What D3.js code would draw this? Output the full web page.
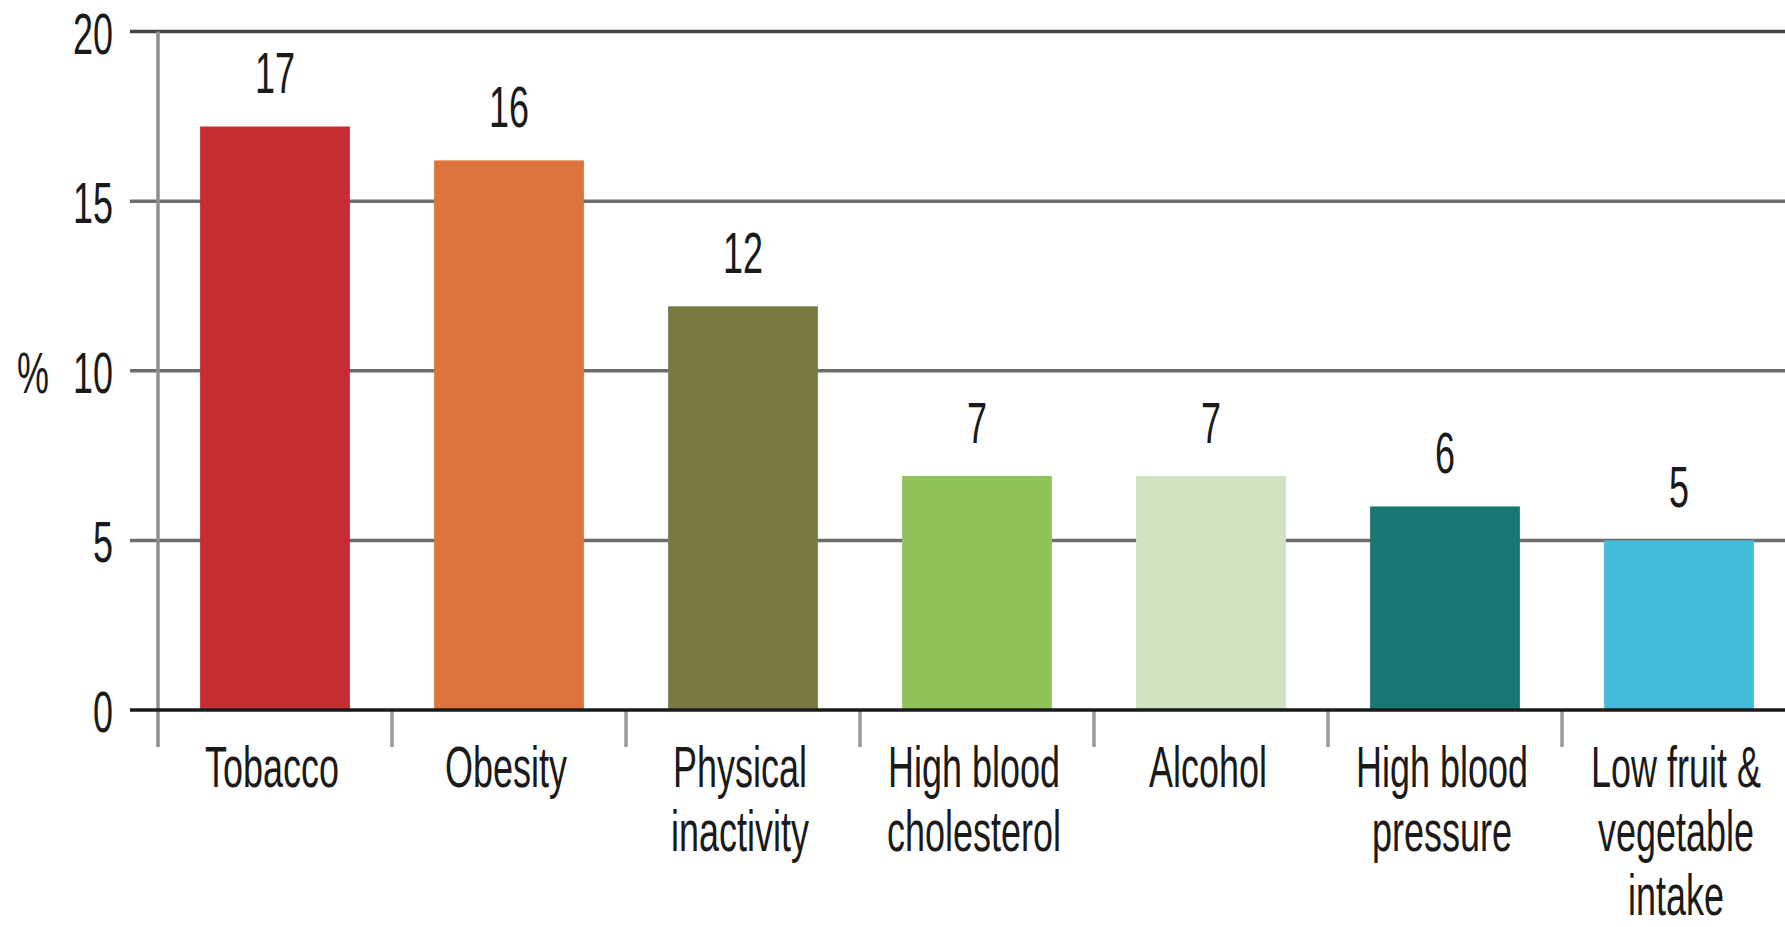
<!DOCTYPE html>
<html>
<head>
<meta charset="utf-8">
<script src="https://cdn.jsdelivr.net/npm/d3@7"></script>
<style>
  html, body { margin: 0; padding: 0; background: #fff; overflow: hidden; }
  svg { display: block; }
</style>
</head>
<body>
<svg id="chart" width="1785" height="927"></svg>
<script>
// ---- data ----
const categories = ["Tobacco", "Obesity", "Physical inactivity", "High blood cholesterol", "Alcohol", "High blood pressure", "Low fruit & vegetable intake"];
const categoryLines = [["Tobacco"], ["Obesity"], ["Physical", "inactivity"], ["High blood", "cholesterol"], ["Alcohol"], ["High blood", "pressure"], ["Low fruit &", "vegetable", "intake"]];
const values = [17.2, 16.2, 11.9, 6.9, 6.9, 6.0, 5.0];
const colors = ["#c62d32", "#dd743c", "#797a40", "#8fc259", "#d0e4c2", "#177773", "#43bddb"];
const yTicks = [0, 5, 10, 15, 20];
const yAxisTitle = "%";

// ---- layout ----
const W = 1785, H = 927;
const x0 = 158, step = 234;
const yZero = 710, yTop = 31.5;
const fontFamily = "'Liberation Sans', Arial, sans-serif";
const fontSize = 58;
const squeeze = 0.62;

const svg = d3.select("#chart");

const x = d3.scaleBand()
  .domain(categories)
  .range([x0, x0 + step * categories.length])
  .paddingInner(0.36)
  .paddingOuter(0.18);

const y = d3.scaleLinear().domain([0, 20]).range([yZero, yTop]);

function squeezedText(sel, tx, ty) {
  return sel.attr("transform", (d, i) => `translate(${tx(d, i)},${ty(d, i)}) scale(${squeeze},1)`)
    .attr("font-family", fontFamily)
    .attr("font-size", fontSize)
    .attr("fill", "#1a1a1a");
}

// gridlines (non-zero)
svg.append("g").selectAll("line")
  .data(yTicks.filter(t => t !== 0))
  .join("line")
  .attr("x1", 130).attr("x2", W)
  .attr("y1", d => y(d)).attr("y2", d => y(d))
  .attr("stroke", d => d === 20 ? "#444" : "#6e6e6e")
  .attr("stroke-width", 3.5);

// y axis vertical line
svg.append("line")
  .attr("x1", x0).attr("x2", x0)
  .attr("y1", y(20)).attr("y2", yZero + 37)
  .attr("stroke", "#8f8f8f").attr("stroke-width", 3.5);

// category boundary ticks
svg.append("g").selectAll("line")
  .data(d3.range(1, categories.length + 1))
  .join("line")
  .attr("x1", i => x0 + i * x.step()).attr("x2", i => x0 + i * x.step())
  .attr("y1", yZero).attr("y2", yZero + 37)
  .attr("stroke", "#999").attr("stroke-width", 3.5);

// bars
svg.append("g").selectAll("rect")
  .data(categories)
  .join("rect")
  .attr("x", d => x(d))
  .attr("width", x.bandwidth())
  .attr("y", (d, i) => y(values[i]))
  .attr("height", (d, i) => yZero - y(values[i]))
  .attr("fill", (d, i) => colors[i]);

// zero line
svg.append("line")
  .attr("x1", 130).attr("x2", W)
  .attr("y1", yZero).attr("y2", yZero)
  .attr("stroke", "#1a1a1a").attr("stroke-width", 3.5);

// y tick labels
squeezedText(
  svg.append("g").selectAll("text").data(yTicks).join("text")
    .attr("text-anchor", "end")
    .text(d => d),
  () => 113, d => y(d) + 22
);

// y axis title
squeezedText(
  svg.append("g").selectAll("text").data([yAxisTitle]).join("text")
    .attr("text-anchor", "start")
    .text(d => d),
  () => 17, () => y(10) + 22
);

// value labels
const fmt = d3.format(".0f");
squeezedText(
  svg.append("g").selectAll("text").data(categories).join("text")
    .attr("text-anchor", "middle")
    .text((d, i) => fmt(values[i])),
  d => x(d) + x.bandwidth() / 2, (d, i) => y(values[i]) - 33
);

// category labels
const catG = svg.append("g").selectAll("g").data(categories).join("g");
catG.each(function (d, i) {
  squeezedText(
    d3.select(this).selectAll("text").data(categoryLines[i]).join("text")
      .attr("text-anchor", "middle")
      .text(t => t),
    () => x(d) + x.bandwidth() / 2 - 3, (t, j) => 787 + j * 64
  );
});
</script>
</body>
</html>
